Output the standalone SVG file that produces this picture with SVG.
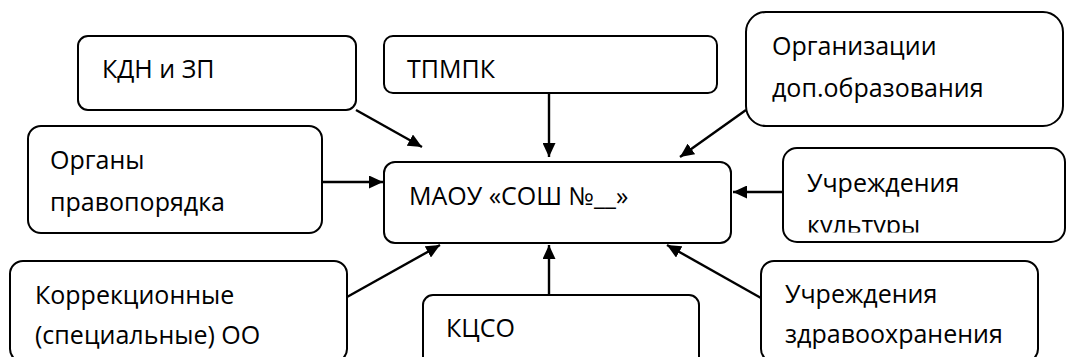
<svg xmlns="http://www.w3.org/2000/svg" width="1066" height="357" viewBox="0 0 1066 357">
  <style>
    .box { fill: #ffffff; stroke: #000000; stroke-width: 2; }
    .lbl { font-family: "Open Sans", "Noto Sans", sans-serif; font-size: 25px; fill: #000000; }
    .conn { stroke: #000000; stroke-width: 2.4; fill: none; marker-end: url(#arrow); }
  </style>
  <defs>
    <marker id="arrow" viewBox="0 0 14 13" refX="14" refY="6.5" markerWidth="14" markerHeight="13" markerUnits="userSpaceOnUse" orient="auto">
      <path d="M0,0 L14,6.5 L0,13 z" fill="#000000"/>
    </marker>
    <clipPath id="clipCulture">
      <rect x="783" y="148" width="283" height="84.5"/>
    </clipPath>
  </defs>
  <rect width="1066" height="357" fill="#ffffff"/>

  <g id="node-kdn">
    <rect class="box" x="78" y="36" width="278" height="74" rx="10"/>
    <text class="lbl" x="102" y="78">КДН и ЗП</text>
  </g>
  <g id="node-tpmpk">
    <rect class="box" x="384" y="36" width="333" height="57" rx="9"/>
    <text class="lbl" x="407" y="78">ТПМПК</text>
  </g>
  <g id="node-orgdop">
    <rect class="box" x="746" y="12" width="317" height="114" rx="20"/>
    <text class="lbl" x="772" y="55">Организации</text>
    <text class="lbl" x="772" y="97">доп.образования</text>
  </g>
  <g id="node-organs">
    <rect class="box" x="28" y="126" width="294" height="107" rx="13"/>
    <text class="lbl" x="50" y="169">Органы</text>
    <text class="lbl" x="50" y="211">правопорядка</text>
  </g>
  <g id="node-maou">
    <rect class="box" x="384" y="162" width="347" height="81" rx="11"/>
    <text class="lbl" x="409" y="205">МАОУ «СОШ №__»</text>
  </g>
  <g id="node-culture">
    <rect class="box" x="783" y="148" width="282" height="94" rx="14"/>
    <g clip-path="url(#clipCulture)">
      <text class="lbl" x="807" y="192">Учреждения</text>
      <text class="lbl" x="807" y="234">культуры</text>
    </g>
  </g>
  <g id="node-correction">
    <rect class="box" x="10" y="261" width="337" height="101" rx="13"/>
    <text class="lbl" x="35" y="304">Коррекционные</text>
    <text class="lbl" x="35" y="344">(специальные) ОО</text>
  </g>
  <g id="node-kcso">
    <rect class="box" x="423" y="295" width="276" height="75" rx="10"/>
    <text class="lbl" x="446" y="337">КЦСО</text>
  </g>
  <g id="node-health">
    <rect class="box" x="761" y="261" width="277" height="101" rx="13"/>
    <text class="lbl" x="785" y="303">Учреждения</text>
    <text class="lbl" x="785" y="343">здравоохранения</text>
  </g>

  <g id="connectors">
    <line class="conn" x1="356" y1="110" x2="422" y2="147"/>
    <line class="conn" x1="549" y1="93" x2="549" y2="157"/>
    <line class="conn" x1="746" y1="110" x2="680" y2="157"/>
    <line class="conn" x1="322" y1="182" x2="383" y2="182"/>
    <line class="conn" x1="783" y1="192" x2="733" y2="192"/>
    <line class="conn" x1="347" y1="297" x2="440" y2="245"/>
    <line class="conn" x1="549" y1="295" x2="549" y2="245"/>
    <line class="conn" x1="761" y1="298" x2="667" y2="245"/>
  </g>
</svg>
